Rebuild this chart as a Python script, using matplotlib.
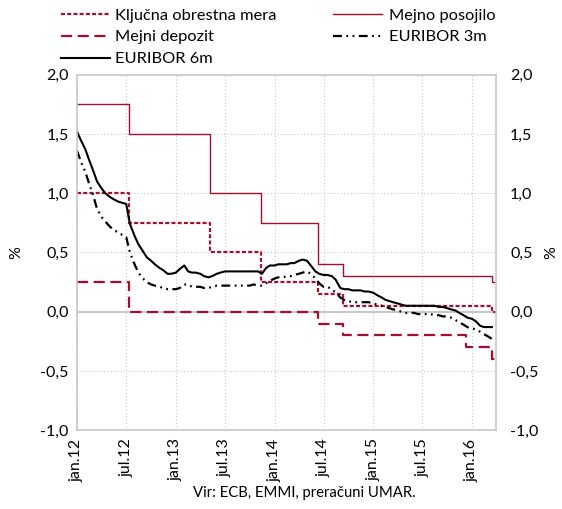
import pandas as pd
import matplotlib.pyplot as plt
from matplotlib.ticker import FuncFormatter

plt.rcParams['font.family'] = ['Lato', 'DejaVu Sans']

# EURIBOR, semi-monthly readings (1st and 15th of each month), Jan 2012 - Mar 2016
euribor_dates = pd.date_range('2012-01-01', periods=102, freq='SMS')
euribor_6m = [
    1.52, 1.45, 1.37, 1.28, 1.19, 1.10, 1.04, 1.00, 0.97, 0.95, 0.93, 0.92,
    0.91, 0.74, 0.64, 0.57, 0.51, 0.46, 0.43, 0.40, 0.37, 0.35, 0.32, 0.32,
    0.33, 0.36, 0.39, 0.34, 0.33, 0.33, 0.32, 0.30, 0.29, 0.30, 0.32, 0.33,
    0.34, 0.34, 0.34, 0.34, 0.34, 0.34, 0.34, 0.34, 0.34, 0.32, 0.37, 0.39,
    0.39, 0.40, 0.40, 0.40, 0.41, 0.41, 0.43, 0.44, 0.43, 0.39, 0.34, 0.32,
    0.31, 0.31, 0.30, 0.27, 0.20, 0.19, 0.19, 0.18, 0.18, 0.18, 0.17, 0.17,
    0.16, 0.14, 0.12, 0.10, 0.09, 0.08, 0.07, 0.06, 0.05, 0.05, 0.05, 0.05,
    0.05, 0.05, 0.05, 0.05, 0.04, 0.04, 0.03, 0.02, 0.01, -0.01, -0.03, -0.05,
    -0.06, -0.08, -0.12, -0.13, -0.13, -0.13,
]
euribor_3m = [
    1.36, 1.27, 1.18, 1.08, 0.98, 0.87, 0.80, 0.76, 0.72, 0.69, 0.67, 0.65,
    0.63, 0.50, 0.40, 0.33, 0.28, 0.25, 0.23, 0.22, 0.21, 0.20, 0.19, 0.19,
    0.19, 0.20, 0.23, 0.23, 0.21, 0.21, 0.21, 0.20, 0.20, 0.21, 0.22, 0.22,
    0.22, 0.22, 0.22, 0.22, 0.22, 0.22, 0.22, 0.23, 0.22, 0.22, 0.24, 0.26,
    0.28, 0.29, 0.29, 0.30, 0.30, 0.31, 0.32, 0.33, 0.34, 0.32, 0.28, 0.24,
    0.21, 0.21, 0.19, 0.16, 0.12, 0.10, 0.09, 0.08, 0.08, 0.08, 0.08, 0.08,
    0.07, 0.06, 0.05, 0.04, 0.03, 0.02, 0.01, 0.00, -0.01, -0.01, -0.01, -0.02,
    -0.02, -0.02, -0.02, -0.03, -0.03, -0.04, -0.04, -0.05, -0.07, -0.09, -0.11, -0.13,
    -0.14, -0.15, -0.17, -0.19, -0.21, -0.23,
]

# ECB rates (step changes)
ecb_dates = pd.to_datetime(['2012-01-01', '2012-07-11', '2013-05-08', '2013-11-13',
                            '2014-06-11', '2014-09-10', '2016-03-16', '2016-03-31'])
key_rate = [1.00, 0.75, 0.50, 0.25, 0.15, 0.05, 0.00, 0.00]
lending_rate = [1.75, 1.50, 1.00, 0.75, 0.40, 0.30, 0.25, 0.25]
dep_dates = pd.to_datetime(['2012-01-01', '2012-07-11', '2014-06-11', '2014-09-10',
                            '2015-12-09', '2016-03-16', '2016-03-31'])
deposit_rate = [0.25, 0.00, -0.10, -0.20, -0.30, -0.40, -0.40]

tick_dates = pd.to_datetime(['2012-01-01', '2012-07-01', '2013-01-01', '2013-07-01',
                             '2014-01-01', '2014-07-01', '2015-01-01', '2015-07-01',
                             '2016-01-01'])
tick_labels = ['jan.12', 'jul.12', 'jan.13', 'jul.13', 'jan.14', 'jul.14',
               'jan.15', 'jul.15', 'jan.16']

red = '#a50f2d'
grey = '#c8c8c8'
fs = 11.5

fig = plt.figure(figsize=(5.62, 5.09), dpi=100)
ax = fig.add_axes([0.137, 0.155, 0.746, 0.698])

l_key, = ax.plot(ecb_dates, key_rate, drawstyle='steps-post', color=red, lw=1.6,
                 dashes=(1.8, 1.0), label='Ključna obrestna mera')
l_lend, = ax.plot(ecb_dates, lending_rate, drawstyle='steps-post', color=red, lw=1.0,
                  label='Mejno posojilo')
l_dep, = ax.plot(dep_dates, deposit_rate, drawstyle='steps-post', color=red, lw=1.6,
                 dashes=(5, 2.5), label='Mejni depozit')
l_3m, = ax.plot(euribor_dates, euribor_3m, color='black', lw=1.6,
                dashes=(4, 2, 0.8, 2, 0.8, 2), label='EURIBOR 3m')
l_6m, = ax.plot(euribor_dates, euribor_6m, color='black', lw=1.5, label='EURIBOR 6m')

ax.set_xlim(pd.Timestamp('2012-01-01'), pd.Timestamp('2016-03-31'))
ax.set_ylim(-1.0, 2.0)
ax.set_yticks([-1.0, -0.5, 0.0, 0.5, 1.0, 1.5, 2.0])
fmt = FuncFormatter(lambda v, p: f'{v:.1f}'.replace('.', ','))
ax.yaxis.set_major_formatter(fmt)
ax.set_xticks(tick_dates)
ax.set_xticklabels(tick_labels, rotation=90, fontsize=fs)
ax.tick_params(axis='both', length=0, labelsize=fs, pad=6)
ax.grid(True, color=grey, linestyle=(0, (1, 2)), lw=0.8)
ax.axhline(0, color=grey, lw=1.5, zorder=1)
for s in ax.spines.values():
    s.set_color(grey)
    s.set_linewidth(1.2)
ax.set_ylabel('%', fontsize=fs, labelpad=12)

ax2 = ax.twinx()
ax2.set_ylim(-1.0, 2.0)
ax2.set_yticks([-1.0, -0.5, 0.0, 0.5, 1.0, 1.5, 2.0])
ax2.yaxis.set_major_formatter(fmt)
ax2.tick_params(axis='y', length=0, labelsize=fs, pad=10)
for s in ax2.spines.values():
    s.set_visible(False)
ax2.set_ylabel('%', fontsize=fs, labelpad=4)

leg_fs = 11.8
fig.legend(handles=[l_key, l_dep, l_6m], loc='upper left', bbox_to_anchor=(0.096, 0.997),
           frameon=False, fontsize=leg_fs, handlelength=3.0, handletextpad=0.35,
           labelspacing=0.45, borderaxespad=0)
fig.legend(handles=[l_lend, l_3m], loc='upper left', bbox_to_anchor=(0.58, 0.997),
           frameon=False, fontsize=leg_fs, handlelength=3.0, handletextpad=0.45,
           labelspacing=0.45, borderaxespad=0)

fig.text(0.541, 0.024, 'Vir: ECB, EMMI, preračuni UMAR.', ha='center', fontsize=10.7)

fig.savefig('out.png', dpi=100)
